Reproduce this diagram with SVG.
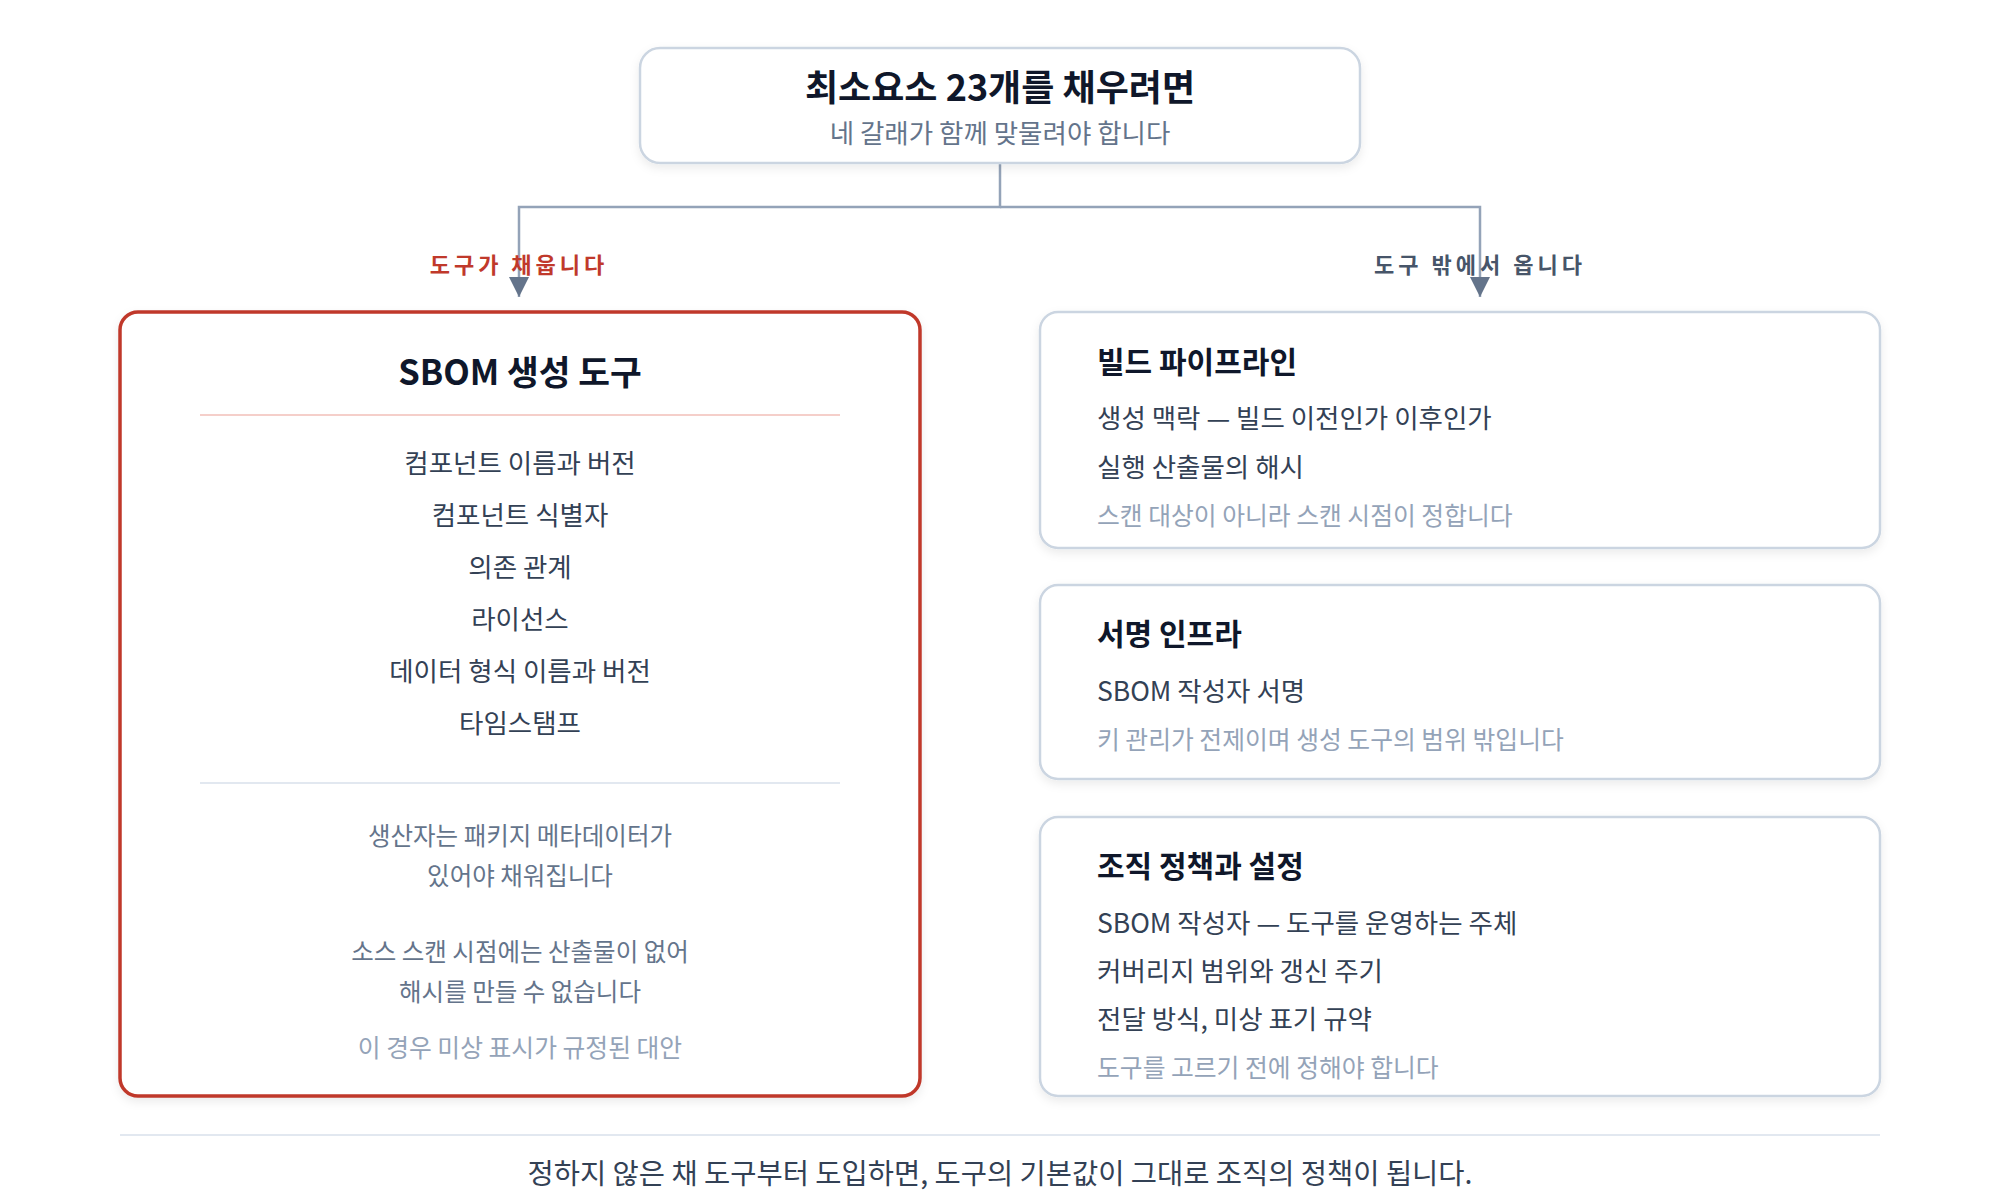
<svg xmlns="http://www.w3.org/2000/svg" width="2000" height="1200" viewBox="0 0 2000 1200">
<defs>
<style>
text{font-family:"Noto Sans CJK KR","Noto Sans",sans-serif;dominant-baseline:central}
.card{fill:#ffffff;stroke:#cbd5e1;stroke-width:2.5}
.red{fill:#ffffff;stroke:#c0392b;stroke-width:3.5}
.h1{font-size:36px;font-weight:700;fill:#0f172a}
.h2{font-size:30px;font-weight:700;fill:#0f172a}
.sub{font-size:26.5px;fill:#64748b}
.item{font-size:26.5px;fill:#334155}
.note{font-size:24.5px;fill:#64748b}
.faint{font-size:24.8px;fill:#94a3b8}
.lbl{font-size:22px;font-weight:700;letter-spacing:4px}
.conn{fill:none;stroke:#94a3b8;stroke-width:2.5}
</style>
<marker id="arrow" viewBox="0 0 20 20" refX="20" refY="10" markerWidth="20" markerHeight="20" markerUnits="userSpaceOnUse" orient="auto">
<path d="M0,0 L20,10 L0,20 z" fill="#64748b"/>
</marker>
<filter id="sh" x="-10%" y="-10%" width="120%" height="130%">
<feDropShadow dx="0" dy="4" stdDeviation="5" flood-color="#0f172a" flood-opacity="0.08"/>
</filter>
</defs>
<rect width="2000" height="1200" fill="#ffffff"/>

<g id="connectors">
<path class="conn" d="M1000,163 V207 H519 V297" marker-end="url(#arrow)"/>
<path class="conn" d="M1000,207 H1480 V297" marker-end="url(#arrow)"/>
<text x="519" y="263" text-anchor="middle" class="lbl" fill="#c0392b">도구가 채웁니다</text>
<text x="1480" y="263" text-anchor="middle" class="lbl" fill="#475569">도구 밖에서 옵니다</text>
</g>

<g id="top">
<rect class="card" x="640" y="48" width="720" height="115" rx="20" filter="url(#sh)"/>
<text x="1000" y="85" text-anchor="middle" class="h1">최소요소 23개를 채우려면</text>
<text x="1000" y="131" text-anchor="middle" class="sub">네 갈래가 함께 맞물려야 합니다</text>
</g>

<g id="sbom-tool">
<rect class="red" x="120" y="312" width="800" height="784" rx="18" filter="url(#sh)"/>
<text x="520" y="370" text-anchor="middle" class="h1" style="font-size:34.5px">SBOM 생성 도구</text>
<line x1="200" y1="415" x2="840" y2="415" stroke="#f5cfca" stroke-width="2"/>
<text x="520" y="461" text-anchor="middle" class="item">컴포넌트 이름과 버전</text>
<text x="520" y="513" text-anchor="middle" class="item">컴포넌트 식별자</text>
<text x="520" y="565" text-anchor="middle" class="item">의존 관계</text>
<text x="520" y="617" text-anchor="middle" class="item">라이선스</text>
<text x="520" y="669" text-anchor="middle" class="item">데이터 형식 이름과 버전</text>
<text x="520" y="721" text-anchor="middle" class="item">타임스탬프</text>
<line x1="200" y1="783" x2="840" y2="783" stroke="#e2e8f0" stroke-width="2"/>
<text x="520" y="834" text-anchor="middle" class="note">생산자는 패키지 메타데이터가</text>
<text x="520" y="874" text-anchor="middle" class="note">있어야 채워집니다</text>
<text x="520" y="950" text-anchor="middle" class="note">소스 스캔 시점에는 산출물이 없어</text>
<text x="520" y="990" text-anchor="middle" class="note">해시를 만들 수 없습니다</text>
<text x="520" y="1046" text-anchor="middle" class="faint">이 경우 미상 표시가 규정된 대안</text>
</g>

<g id="build-pipeline">
<rect class="card" x="1040" y="312" width="840" height="236" rx="18" filter="url(#sh)"/>
<text x="1097" y="360" class="h2">빌드 파이프라인</text>
<text x="1097" y="416" class="item">생성 맥락 — 빌드 이전인가 이후인가</text>
<text x="1097" y="465" class="item">실행 산출물의 해시</text>
<text x="1097" y="514" class="faint">스캔 대상이 아니라 스캔 시점이 정합니다</text>
</g>

<g id="signing-infra">
<rect class="card" x="1040" y="585" width="840" height="194" rx="18" filter="url(#sh)"/>
<text x="1097" y="632" class="h2">서명 인프라</text>
<text x="1097" y="689" class="item">SBOM 작성자 서명</text>
<text x="1097" y="738" class="faint">키 관리가 전제이며 생성 도구의 범위 밖입니다</text>
</g>

<g id="org-policy">
<rect class="card" x="1040" y="817" width="840" height="279" rx="18" filter="url(#sh)"/>
<text x="1097" y="864" class="h2">조직 정책과 설정</text>
<text x="1097" y="921" class="item">SBOM 작성자 — 도구를 운영하는 주체</text>
<text x="1097" y="969" class="item">커버리지 범위와 갱신 주기</text>
<text x="1097" y="1017" class="item">전달 방식, 미상 표기 규약</text>
<text x="1097" y="1066" class="faint">도구를 고르기 전에 정해야 합니다</text>
</g>

<g id="footer">
<line x1="120" y1="1135" x2="1880" y2="1135" stroke="#e2e8f0" stroke-width="2"/>
<text x="1000" y="1171" text-anchor="middle" class="item" style="font-size:28.5px">정하지 않은 채 도구부터 도입하면, 도구의 기본값이 그대로 조직의 정책이 됩니다.</text>
</g>
</svg>
